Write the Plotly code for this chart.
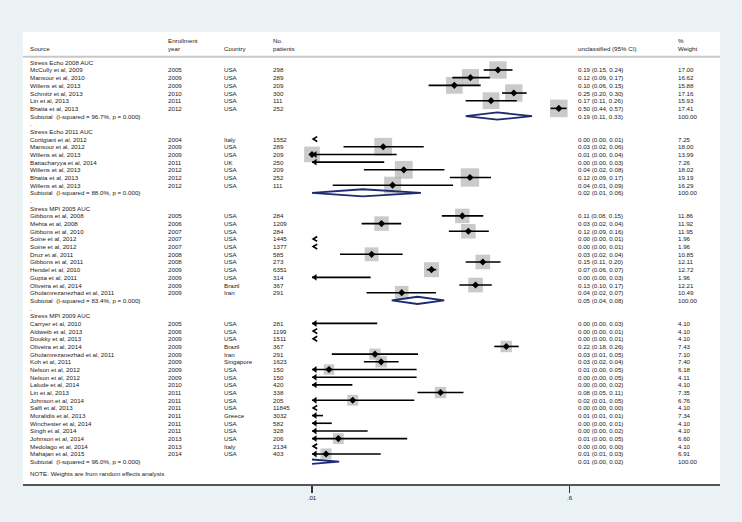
import math
import plotly.graph_objects as go

# ---------------- data ----------------
group_names = ["Stress Echo 2008 AUC", "Stress Echo 2011 AUC", "Stress MPI 2005 AUC", "Stress MPI 2009 AUC"]
group_sizes = [6, 7, 11, 18]
group_het = ["(I-squared = 96.7%, p = 0.000)", "(I-squared = 88.0%, p = 0.000)",
             "(I-squared = 83.4%, p = 0.000)", "(I-squared = 96.0%, p = 0.000)"]
sub_est = [0.19, 0.0224, 0.0535, 0.0075]
sub_lo = [0.115, 0.0100, 0.0355, 0.0040]
sub_hi = [0.33, 0.0565, 0.0817, 0.0154]
sub_text = ["0.19 (0.11, 0.33)", "0.02 (0.01, 0.06)", "0.05 (0.04, 0.08)", "0.01 (0.00, 0.02)"]

sources = [
    "McCully et al, 2009", "Mansour et al, 2010", "Willens et al, 2013", "Schmitz et al, 2013", "Lin et al, 2013", "Bhatia et al, 2013",
    "Cortigiani et al, 2012", "Mansour et al, 2012", "Willens et al, 2013", "Battacharyya et al, 2014", "Willens et al, 2013", "Bhatia et al, 2013", "Willens et al, 2013",
    "Gibbons et al, 2008", "Mehta et al, 2008", "Gibbons et al, 2010", "Soine et al, 2012", "Soine et al, 2012", "Druz et al, 2011",
    "Gibbons et al, 2011", "Hendel et al, 2010", "Gupta et al, 2011", "Oliveira et al, 2014", "Gholamrezanezhad et al, 2011",
    "Carryer et al, 2010", "Aldweib et al, 2013", "Doukky et al, 2013", "Oliveira et al, 2014", "Gholamrezanezhad et al, 2011",
    "Koh et al, 2011", "Nelson et al, 2012", "Nelson et al, 2012", "Lalude et al, 2014", "Lin et al, 2013", "Johnson et al, 2014",
    "Salfi et al, 2013", "Moralidis et al, 2013", "Winchester et al, 2014", "Singh et al, 2014", "Johnson et al, 2014",
    "Medolago et al, 2014", "Mahajan et al, 2015",
]
years = [
    2005, 2009, 2009, 2010, 2011, 2012,
    2004, 2009, 2009, 2011, 2012, 2012, 2012,
    2005, 2006, 2007, 2007, 2007, 2008, 2008, 2009, 2009, 2009, 2009,
    2005, 2006, 2009, 2009, 2009, 2009, 2009, 2009, 2010, 2011, 2011, 2011, 2011, 2011, 2011, 2013, 2013, 2014,
]
countries = [
    "USA", "USA", "USA", "USA", "USA", "USA",
    "Italy", "USA", "USA", "UK", "USA", "USA", "USA",
    "USA", "USA", "USA", "USA", "USA", "USA", "USA", "USA", "USA", "Brazil", "Iran",
    "USA", "USA", "USA", "Brazil", "Iran", "Singapore", "USA", "USA", "USA", "USA", "USA", "USA", "Greece",
    "USA", "USA", "USA", "Italy", "USA",
]
patients = [
    298, 289, 209, 300, 111, 252,
    1552, 289, 209, 250, 209, 252, 111,
    284, 1209, 284, 1445, 1377, 585, 273, 6351, 314, 367, 291,
    281, 1199, 1511, 367, 291, 1623, 150, 150, 420, 338, 205, 11845, 3032, 582, 328, 206, 2134, 403,
]
est = [
    0.192, 0.124, 0.096, 0.247, 0.172, 0.505,
    0.003, 0.031, 0.0100, 0.004, 0.043, 0.123, 0.036,
    0.109, 0.0302, 0.120, 0.0007, 0.0007, 0.0258, 0.151, 0.0668, 0.003, 0.1345, 0.0416,
    0.003, 0.0004, 0.0004, 0.219, 0.0272, 0.030, 0.0131, 0.004, 0.002, 0.0771, 0.0191, 0.0001, 0.0085,
    0.001, 0.002, 0.0152, 0.0002, 0.0125,
]
lo = [
    0.153, 0.093, 0.0638, 0.205, 0.115, 0.443,
    0.0015, 0.0165, 0.0025, 0.0005, 0.0228, 0.0894, 0.0139,
    0.0787, 0.0220, 0.088, 0.0001, 0.0001, 0.0156, 0.115, 0.062, 0.0002, 0.104, 0.0238,
    0.0003, 0.0001, 0.0001, 0.181, 0.0137, 0.0228, 0.0033, 0.0003, 0.0001, 0.0535, 0.0065, 0.00003, 0.006,
    0.0001, 0.0002, 0.004, 0.00005, 0.0065,
]
hi = [
    0.242, 0.169, 0.146, 0.303, 0.259, 0.571,
    0.006, 0.059, 0.0384, 0.0315, 0.082, 0.172, 0.094,
    0.152, 0.0413, 0.166, 0.005, 0.005, 0.0422, 0.200, 0.072, 0.0254, 0.174, 0.0716,
    0.0282, 0.003, 0.003, 0.267, 0.0539, 0.0396, 0.0527, 0.0527, 0.019, 0.111, 0.0508, 0.0003, 0.0119,
    0.0137, 0.0242, 0.0454, 0.0004, 0.0298,
]
weights = [
    17.00, 16.62, 15.88, 17.16, 15.93, 17.41,
    7.25, 18.00, 13.99, 7.26, 18.02, 19.19, 16.29,
    11.86, 11.92, 11.95, 1.96, 1.96, 10.85, 12.11, 12.72, 1.96, 12.21, 10.49,
    4.10, 4.10, 4.10, 7.43, 7.10, 7.40, 6.18, 4.11, 4.10, 7.35, 6.76, 4.10, 7.34, 4.10, 4.10, 6.60, 4.10, 6.91,
]
ci_text = [
    "0.19 (0.15, 0.24)", "0.12 (0.09, 0.17)", "0.10 (0.06, 0.15)", "0.25 (0.20, 0.30)", "0.17 (0.11, 0.26)", "0.50 (0.44, 0.57)",
    "0.00 (0.00, 0.01)", "0.03 (0.02, 0.06)", "0.01 (0.00, 0.04)", "0.00 (0.00, 0.03)", "0.04 (0.02, 0.08)", "0.12 (0.09, 0.17)", "0.04 (0.01, 0.09)",
    "0.11 (0.08, 0.15)", "0.03 (0.02, 0.04)", "0.12 (0.09, 0.16)", "0.00 (0.00, 0.01)", "0.00 (0.00, 0.01)", "0.03 (0.02, 0.04)",
    "0.15 (0.11, 0.20)", "0.07 (0.06, 0.07)", "0.00 (0.00, 0.03)", "0.13 (0.10, 0.17)", "0.04 (0.02, 0.07)",
    "0.00 (0.00, 0.03)", "0.00 (0.00, 0.01)", "0.00 (0.00, 0.01)", "0.22 (0.18, 0.26)", "0.03 (0.01, 0.05)",
    "0.03 (0.02, 0.04)", "0.01 (0.00, 0.05)", "0.00 (0.00, 0.05)", "0.00 (0.00, 0.02)", "0.08 (0.05, 0.11)", "0.02 (0.01, 0.05)",
    "0.00 (0.00, 0.00)", "0.01 (0.01, 0.01)", "0.00 (0.00, 0.01)", "0.00 (0.00, 0.02)", "0.01 (0.00, 0.05)",
    "0.00 (0.00, 0.00)", "0.01 (0.01, 0.03)",
]
x_tick_vals = [0.01, 0.6]
x_tick_text = [".01", ".6"]
x_min = 0.01

# ---------------- layout geometry ----------------
W, H = 742, 522
ML, MR, MT, MB = 23, 22, 32, 38
PW = W - ML - MR
ROW0_PX, ROW_PX = 62.3, 7.68
y_top = (MT - ROW0_PX) / ROW_PX
y_bot = (H - MB - ROW0_PX) / ROW_PX
PX_DEC = 144.9
x_lo_log = -2 + (ML - 312) / PX_DEC
x_hi_log = -2 + (W - MR - 312) / PX_DEC

FONT = "Liberation Sans, Arial, Helvetica, sans-serif"
FS = 6.2
TXT = "#1a1a1a"
NAVY = "#1b2a72"

def px2paper(px):
    return (px - ML) / PW

# ---------------- row assembly ----------------
study_rows = []
sub_rows = []
header_rows = []
dot_rows = []
r = 0
for g, n in enumerate(group_sizes):
    header_rows.append(r)
    r += 1
    for _ in range(n):
        study_rows.append(r)
        r += 1
    sub_rows.append(r)
    r += 1
    if g < len(group_sizes) - 1:
        dot_rows.append(r)
        r += 1
note_row = r + 0.6

annotations = []

def add_text(px, row, text):
    annotations.append(dict(x=px2paper(px), y=row, xref="paper", yref="y", text=text,
                            showarrow=False, xanchor="left", yanchor="middle",
                            borderpad=0, borderwidth=0,
                            font=dict(family=FONT, size=FS, color=TXT)))

COL_SRC, COL_YR, COL_CTRY, COL_N, COL_CI, COL_W = 30, 167.5, 224, 272.5, 578, 678

add_text(COL_SRC, -1.75, "Source")
add_text(COL_YR, -2.9, "Enrollment")
add_text(COL_YR, -1.75, "year")
add_text(COL_CTRY, -1.75, "Country")
add_text(COL_N, -2.9, "No.")
add_text(COL_N, -1.75, "patients")
add_text(COL_CI, -1.75, "unclassified (95% CI)")
add_text(COL_W, -2.9, "%")
add_text(COL_W, -1.75, "Weight")

for g, rr in enumerate(header_rows):
    add_text(COL_SRC, rr, group_names[g])
for rr in dot_rows:
    add_text(COL_SRC, rr, ".")
for i, rr in enumerate(study_rows):
    add_text(COL_SRC, rr, sources[i])
    add_text(COL_YR, rr, str(years[i]))
    add_text(COL_CTRY, rr, countries[i])
    add_text(COL_N, rr, str(patients[i]))
    add_text(COL_CI, rr, ci_text[i])
    add_text(COL_W, rr, "%.2f" % weights[i])
for g, rr in enumerate(sub_rows):
    add_text(COL_SRC, rr, "Subtotal\u00a0 " + group_het[g])
    add_text(COL_CI, rr, sub_text[g])
    add_text(COL_W, rr, "100.00")
add_text(COL_SRC, note_row, "NOTE: Weights are from random effects analysis")

fig = go.Figure()

# boxes (area proportional to weight)
bx, by, bs = [], [], []
for i, rr in enumerate(study_rows):
    if est[i] >= x_min * 0.999:
        bx.append(est[i]); by.append(rr); bs.append(4.2 * math.sqrt(weights[i]))
fig.add_trace(go.Scatter(x=bx, y=by, mode="markers",
                         marker=dict(symbol="square", size=bs, color="#b4b4b4", line=dict(width=0)),
                         hoverinfo="skip"))

# CI lines, arrows for truncated ends, "<" for off-scale intervals
lx, ly, ax_, ay_, cx, cy = [], [], [], [], [], []
tip = x_min * 10 ** (1.2 / PX_DEC)
back = x_min * 10 ** (5.2 / PX_DEC)
for i, rr in enumerate(study_rows):
    if hi[i] < x_min:
        cx += [back, tip, back, None]; cy += [rr - 0.32, rr, rr + 0.32, None]
        continue
    left = max(lo[i], x_min)
    lx += [left, hi[i], None]; ly += [rr, rr, None]
    if lo[i] < x_min:
        ax_.append(x_min * 10 ** (3 / PX_DEC)); ay_.append(rr)
fig.add_trace(go.Scatter(x=lx, y=ly, mode="lines", line=dict(color="black", width=1.6), hoverinfo="skip"))
fig.add_trace(go.Scatter(x=ax_, y=ay_, mode="markers",
                         marker=dict(symbol="triangle-left", size=6, color="black", line=dict(width=0)),
                         hoverinfo="skip"))
fig.add_trace(go.Scatter(x=cx, y=cy, mode="lines", line=dict(color="black", width=1.7), hoverinfo="skip"))

# point estimates
px_, py_ = [], []
for i, rr in enumerate(study_rows):
    if est[i] >= x_min * 0.999:
        px_.append(est[i]); py_.append(rr)
fig.add_trace(go.Scatter(x=px_, y=py_, mode="markers",
                         marker=dict(symbol="diamond", size=5.5, color="black", line=dict(width=0)),
                         hoverinfo="skip"))

# subtotal diamonds (clipped at the left edge of the scale)
def clip_poly(pts, xc):
    out = []
    n = len(pts)
    for j in range(n):
        p, q = pts[j], pts[(j + 1) % n]
        pin, qin = p[0] >= xc, q[0] >= xc
        if pin:
            out.append(p)
        if pin != qin:
            t = (xc - p[0]) / (q[0] - p[0])
            out.append((xc, p[1] + t * (q[1] - p[1])))
    return out

dx, dy = [], []
hh = 0.47
xc = math.log10(x_min)
for g, rr in enumerate(sub_rows):
    e, l, h = math.log10(sub_est[g]), math.log10(sub_lo[g]), math.log10(sub_hi[g])
    poly = clip_poly([(l, rr), (e, rr - hh), (h, rr), (e, rr + hh)], xc)
    m = len(poly)
    def is_cut(a, b):
        return abs(a[0] - xc) < 1e-9 and abs(b[0] - xc) < 1e-9 and abs(a[1] - b[1]) > 1e-9
    start = None
    for j in range(m):
        if is_cut(poly[j], poly[(j + 1) % m]):
            start = (j + 1) % m
            break
    if start is None:
        seq = poly + [poly[0]]
    else:
        seq = [poly[(start + j) % m] for j in range(m)]
    dx += [10 ** p[0] for p in seq] + [None]
    dy += [p[1] for p in seq] + [None]
fig.add_trace(go.Scatter(x=dx, y=dy, mode="lines", line=dict(color=NAVY, width=1.8), hoverinfo="skip"))

shapes = [
    dict(type="line", xref="paper", yref="y", x0=0, x1=1, y0=-0.73, y1=-0.73,
         line=dict(color="#c8c8c8", width=2), layer="below"),
]

fig.update_layout(
    width=W, height=H,
    margin=dict(l=ML, r=MR, t=MT, b=MB, pad=0),
    paper_bgcolor="#eaf2f3",
    plot_bgcolor="white",
    showlegend=False,
    hovermode=False,
    annotations=annotations,
    shapes=shapes,
    xaxis=dict(type="log", range=[x_lo_log, x_hi_log], showgrid=False, zeroline=False,
               tickvals=x_tick_vals, ticktext=x_tick_text, ticks="outside", ticklen=7,
               tickwidth=1.2, tickcolor="#333", showline=True, linecolor="#555", linewidth=1.5,
               tickfont=dict(family=FONT, size=FS, color=TXT), fixedrange=True),
    yaxis=dict(range=[y_bot, y_top], visible=False, showgrid=False, zeroline=False, fixedrange=True),
)

fig.write_html(
    "out.html",
    config={"displayModeBar": False, "staticPlot": True},
    post_script="document.body.style.margin='0px';document.body.style.padding='0px';"
                "document.body.style.background='#eaf2f3';document.body.style.overflow='hidden';",
)
